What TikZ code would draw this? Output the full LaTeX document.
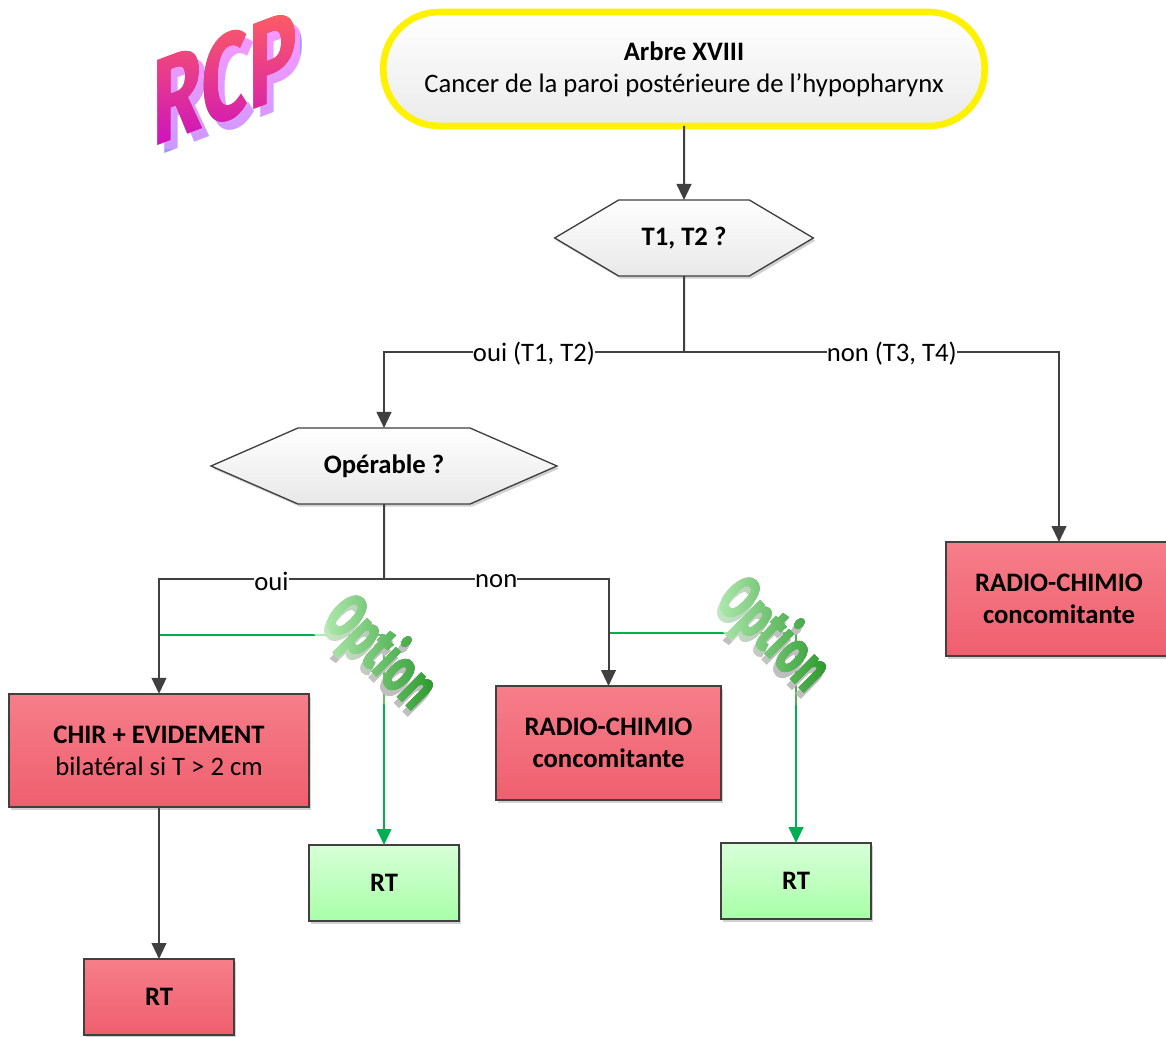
\documentclass[tikz,border=0pt]{standalone}
\usepackage{fontspec}
\setmainfont{Carlito}
\usetikzlibrary{arrows.meta,shapes.symbols,shadows}
\newfontfamily\rcpfont{Fira Sans}
\newfontfamily\optfont[BoldFeatures={FakeBold=2.5}]{Fira Sans}
\definecolor{linegray}{HTML}{404040}
\definecolor{redtop}{HTML}{F67E8A}
\definecolor{redbot}{HTML}{EF5F6E}
\definecolor{greentop}{HTML}{D8FFD8}
\definecolor{greenbot}{HTML}{A8FFA8}
\definecolor{optgreen}{HTML}{00B050}
\definecolor{rcptop}{HTML}{FF6060}
\definecolor{rcpbot}{HTML}{CC10C0}
\definecolor{rcpback}{HTML}{9999FF}
\definecolor{optlight}{HTML}{C8F8C8}
\definecolor{optdark}{HTML}{108A10}
\tikzset{
 softshadow/.style={drop shadow={shadow xshift=1.5pt,shadow yshift=-2pt,opacity=.18,fill=black}},
 titlebox/.style={draw=yellow,line width=5pt,rounded corners=42pt,minimum width=451pt,minimum height=85.5pt,inner sep=0pt,outer sep=0pt,align=center,top color=white,bottom color=black!8,softshadow},
 question/.style={draw=linegray,line width=1pt,signal,signal to=west and east,signal from=nowhere,minimum height=57pt,inner sep=0pt,outer sep=0pt,top color=white,bottom color=black!9,font=\bfseries,softshadow},
 redbox/.style={draw=linegray,line width=1.5pt,inner sep=0pt,outer sep=0pt,align=center,top color=redtop,bottom color=redbot,softshadow},
 greenbox/.style={draw=linegray,line width=1.5pt,inner sep=0pt,outer sep=0pt,minimum width=112.5pt,minimum height=57pt,top color=greentop,bottom color=greenbot,font=\bfseries,softshadow},
 conn/.style={draw=linegray,line width=1.5pt},
 arr/.style={conn,-{Stealth[length=12pt,width=11pt,inset=0pt]}},
 optarr/.style={draw=optgreen,line width=1.5pt,-{Stealth[length=12pt,width=11pt,inset=0pt]}},
 lab/.style={fill=white,inner sep=0pt,yshift=-1.5pt},
 rcpword/.style={font=\rcpfont\bfseries\fontsize{92}{92}\selectfont,transform shape,xscale=.66,yslant=.25,inner sep=0pt},
 optword/.style={font=\optfont\bfseries\fontsize{47}{47}\selectfont,transform shape,rotate=-45,xscale=.66,inner sep=0pt},
 optband/.style={rotate=-45,minimum width=114pt,minimum height=50pt,inner sep=0pt,left color=optlight,right color=optdark},
}
\begin{document}
\begin{tikzpicture}[x=0.75pt,y=-0.75pt]
 \useasboundingbox (0,0) rectangle (1166,1037);
 \fill[white] (0,0) rectangle (1166,1037);
 \fontsize{20}{24}\selectfont
 % boxes
 \node[titlebox] (title) at (684,69) {\textbf{Arbre XVIII}\\Cancer de la paroi postérieure de l’hypopharynx};
 \node[question,minimum width=194pt,signal pointer angle=61.4] (tq) at (684,238) {T1, T2 ?};
 \node[question,minimum width=259.5pt,signal pointer angle=47.2] (opq) at (384,466) {Opérable ?};
 \node[redbox,minimum width=169.5pt,minimum height=85.5pt,font=\bfseries] (rcright) at (1059,599) {RADIO-CHIMIO\\concomitante};
 \node[redbox,minimum width=225pt,minimum height=85pt] (chir) at (159,750.5) {\textbf{CHIR + EVIDEMENT}\\bilatéral si T > 2 cm};
 \node[redbox,minimum width=169pt,minimum height=85.5pt,font=\bfseries] (rcleft) at (608.5,743) {RADIO-CHIMIO\\concomitante};
 \node[redbox,minimum width=112.5pt,minimum height=57pt,font=\bfseries] (rtred) at (159,997) {RT};
 \node[greenbox] (rta) at (384,883) {RT};
 \node[greenbox] (rtb) at (796,881) {RT};
 % option branches
 \coordinate (opta) at (159,635);
 \coordinate (optb) at (609,633);
 \draw[optarr] (opta) -| (rta);
 \draw[optarr] (optb) -| (rtb);
 % option words
 \foreach \cx/\cy/\nm in {380/653/a,773/635/b}{
  \node[optword,text=black!25] (optshade\nm) at (\cx-3,\cy+6) {Option};
  \node[optword,text=black] (optfront\nm) at (\cx,\cy) {Option};
  \begin{scope}[blend mode=lighten]
   \node[optband] (optgrad\nm) at (\cx,\cy) {};
  \end{scope}
 }
 % connectors
 \coordinate (brtop) at (684,352);
 \coordinate (brop) at (384,579);
 \draw[arr] (title) -- (tq);
 \draw[conn] (tq) -- (brtop);
 \draw[arr] (brtop) -| node[lab,pos=.25] (ouitq) {oui (T1, T2)} (opq);
 \draw[arr] (brtop) -| node[lab,pos=.277] (nontq) {non (T3, T4)} (rcright);
 \draw[conn] (opq) -- (brop);
 \draw[arr] (brop) -| node[lab,pos=.25] (ouiop) {oui} (chir);
 \draw[arr] (brop) -| node[lab,pos=.25] (nonop) {non} (rcleft);
 \draw[arr] (chir) -- (rtred);
 % logo
 \node[rcpword,text=rcpback] (rcpshade) at (232,86) {RCP};
 \node[rcpword,text=black] (rcpfront) at (225,78) {RCP};
 \begin{scope}[blend mode=lighten]
  \node[minimum width=112pt,minimum height=106pt,inner sep=0pt,top color=rcptop,bottom color=rcpbot] (rcpgrad) at (225,78) {};
 \end{scope}
\end{tikzpicture}
\end{document}
